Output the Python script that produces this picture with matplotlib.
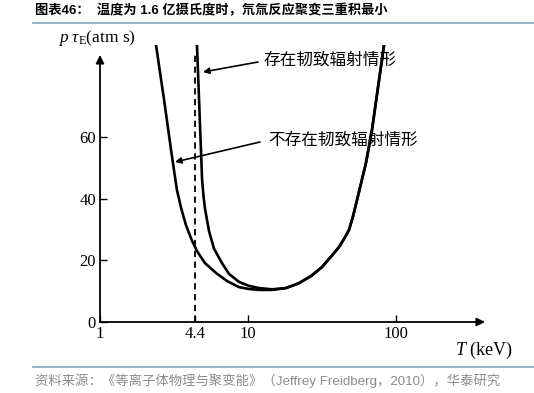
import matplotlib
matplotlib.use("Agg")
import matplotlib.pyplot as plt

plt.rcParams['mathtext.fontset'] = 'custom'
plt.rcParams['mathtext.rm'] = 'Liberation Serif'
plt.rcParams['mathtext.it'] = 'Liberation Serif:italic'

# 读图得到的数据点 (T keV, p*tau_E atm s)
t_no_brems = [2.39, 2.71, 3.02, 3.16, 3.31, 3.53, 3.81, 4.18, 4.52, 5.12, 6.08, 7.21,
              8.69, 10.16, 11.87, 14.53, 18.06, 22.11, 26.66, 31.6, 37.0, 41.2, 44.5,
              48.1, 51.2, 54.5, 62.7, 68.8, 76.8, 83.0]
v_no_brems = [89.8, 72.0, 55.8, 49.3, 42.8, 37.0, 31.4, 26.4, 23.0, 19.1, 15.9, 13.3,
              11.3, 10.7, 10.4, 10.4, 11.0, 12.6, 14.9, 17.8, 21.6, 24.3, 26.9,
              29.8, 34.2, 39.5, 51.6, 62.2, 78.4, 89.8]

t_brems = [4.52, 4.67, 4.81, 4.89, 5.00, 5.12, 5.45, 5.89, 6.67, 7.44, 8.69, 10.16,
           11.87, 14.53, 18.06, 22.11, 26.66, 31.6, 37.0, 41.2, 44.5,
           48.1, 51.2, 54.5, 62.7, 68.8, 76.8, 83.0]
v_brems = [89.8, 72.0, 55.8, 46.5, 41.0, 36.8, 29.5, 23.8, 19.1, 15.6, 13.0, 11.7,
           11.0, 10.6, 11.0, 12.6, 14.9, 17.8, 21.6, 24.3, 26.9,
           29.8, 34.2, 39.5, 51.6, 62.2, 78.4, 89.8]

t_ignite = 4.4
x_ticks = [1, 4.4, 10, 100]
x_ticklabels = ['1', '4.4', '10', '100']
y_ticks = [0, 20, 40, 60]

title = '图表46：  温度为 1.6 亿摄氏度时，氘氚反应聚变三重积最小'
source = '资料来源：《等离子体物理与聚变能》（Jeffrey Freidberg，2010），华泰研究'
label_brems = '存在韧致辐射情形'
label_no_brems = '不存在韧致辐射情形'

W, H = 534, 393
fig = plt.figure(figsize=(W / 100, H / 100), dpi=100)

def fx(px):
    return px / W

def fy(py):
    return 1 - py / H

ax = fig.add_axes([fx(100), fy(322), (485 - 100) / W, (322 - 45) / H])
ax.set_xscale('log')
ax.set_xlim(1, 10 ** (385 / 148))
ax.set_ylim(0, 89.8)

ax.plot(t_no_brems, v_no_brems, color='black', lw=1.9, solid_joinstyle='round')
ax.plot(t_brems, v_brems, color='black', lw=1.9, solid_joinstyle='round')
ax.plot([t_ignite, t_ignite], [0, 86.5], color='black', lw=1.3,
        linestyle=(0, (3.5, 2.5)))

for s in ax.spines.values():
    s.set_visible(False)

# 坐标轴箭头
ax.annotate('', xy=(0, (322 - 55) / 277), xytext=(0, 0), xycoords='axes fraction',
            arrowprops=dict(arrowstyle='-|>', color='black', lw=1.3,
                            mutation_scale=12, shrinkA=0, shrinkB=0))
ax.annotate('', xy=(1, 0), xytext=(0, 0), xycoords='axes fraction',
            arrowprops=dict(arrowstyle='-|>', color='black', lw=1.3,
                            mutation_scale=12, shrinkA=0, shrinkB=0))

ax.set_xticks(x_ticks)
ax.set_xticklabels(x_ticklabels)
ax.xaxis.set_minor_locator(matplotlib.ticker.NullLocator())
ax.set_yticks(y_ticks)
ax.tick_params(direction='in', length=5, width=1, colors='black', pad=3)
for lab in ax.get_xticklabels() + ax.get_yticklabels():
    lab.set_fontfamily('Liberation Serif')
    lab.set_fontsize(12)

# 标注箭头
cjk = ['Noto Sans CJK SC', 'DejaVu Sans']
latin_cjk = ['Liberation Sans', 'Noto Sans CJK SC']
ax.annotate('', xy=(fx(203), fy(72)), xytext=(fx(258), fy(62)),
            xycoords='figure fraction',
            arrowprops=dict(arrowstyle='-|>', color='black', lw=1.2,
                            mutation_scale=9, shrinkA=0, shrinkB=0))
ax.annotate('', xy=(fx(175), fy(162)), xytext=(fx(260), fy(142)),
            xycoords='figure fraction',
            arrowprops=dict(arrowstyle='-|>', color='black', lw=1.2,
                            mutation_scale=9, shrinkA=0, shrinkB=0))
fig.text(fx(263), fy(60), label_brems, family=cjk, fontsize=12,
         ha='left', va='center')
fig.text(fx(268), fy(140), label_no_brems, family=cjk, fontsize=12,
         ha='left', va='center')

fig.text(fx(58), fy(38), r'$p\ \tau_{\rm E}$(atm s)', family='Liberation Serif',
         fontsize=12.5, ha='left', va='center')
fig.text(fx(455), fy(350), r'$T$ (keV)', family='Liberation Serif',
         fontsize=13, ha='left', va='center')

# 标题与来源
fig.text(fx(35), fy(11), title, family=latin_cjk, fontsize=9.5, fontweight='bold',
         ha='left', va='center')
fig.add_artist(plt.Line2D([fx(33), 1], [fy(23), fy(23)], color='#8aa6c8', lw=1.2))
fig.add_artist(plt.Line2D([fx(33), 1], [fy(367), fy(367)], color='#8aa6c8', lw=1.2))
fig.text(fx(35), fy(381), source, family=latin_cjk, fontsize=9.6, color='#8c8c8c',
         ha='left', va='center')

fig.savefig('out.png', dpi=100)
